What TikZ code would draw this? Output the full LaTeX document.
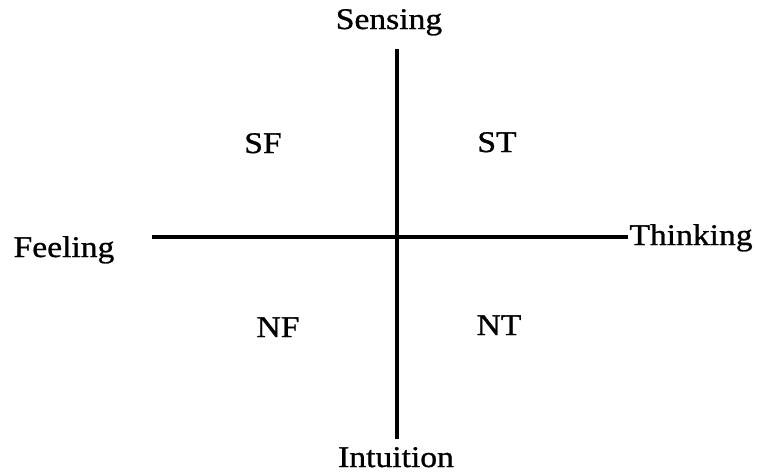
\documentclass[tikz,border=0pt]{standalone}
\usepackage{fontspec}
\setmainfont{Liberation Serif}[FakeStretch=1.12,FakeBold=0.9]
\usetikzlibrary{positioning}
\tikzset{
  axis/.style={line width=3.2pt,draw=black},
  pole/.style={font=\fontsize{30}{30}\selectfont,anchor=base,inner sep=0pt},
  quad/.style={font=\fontsize{30}{30}\selectfont,anchor=base,inner sep=0pt}
}
\begin{document}
\begin{tikzpicture}[x=1pt,y=-1pt]
  \useasboundingbox (0,0) rectangle (757,475);
  % axes
  \coordinate (top) at (397,49);
  \coordinate (bot) at (397,439);
  \coordinate (lft) at (152,237);
  \coordinate (rgt) at (628,237);
  \draw[axis] (top)--(bot);
  \draw[axis] (lft)--(rgt);
  % poles
  \node[pole] (sens) at (389,29) {Sensing};
  \node[pole] (intu) at (396,467) {Intuition};
  \node[pole] (feel) at (64,257) {Feeling};
  \node[pole] (think) at (691,245) {Thinking};
  % quadrants
  \node[quad] (sf) at (263,153) {SF};
  \node[quad] (st) at (497,152) {ST};
  \node[quad] (nf) at (278,337) {NF};
  \node[quad] (nt) at (499,335) {NT};
\end{tikzpicture}
\end{document}
